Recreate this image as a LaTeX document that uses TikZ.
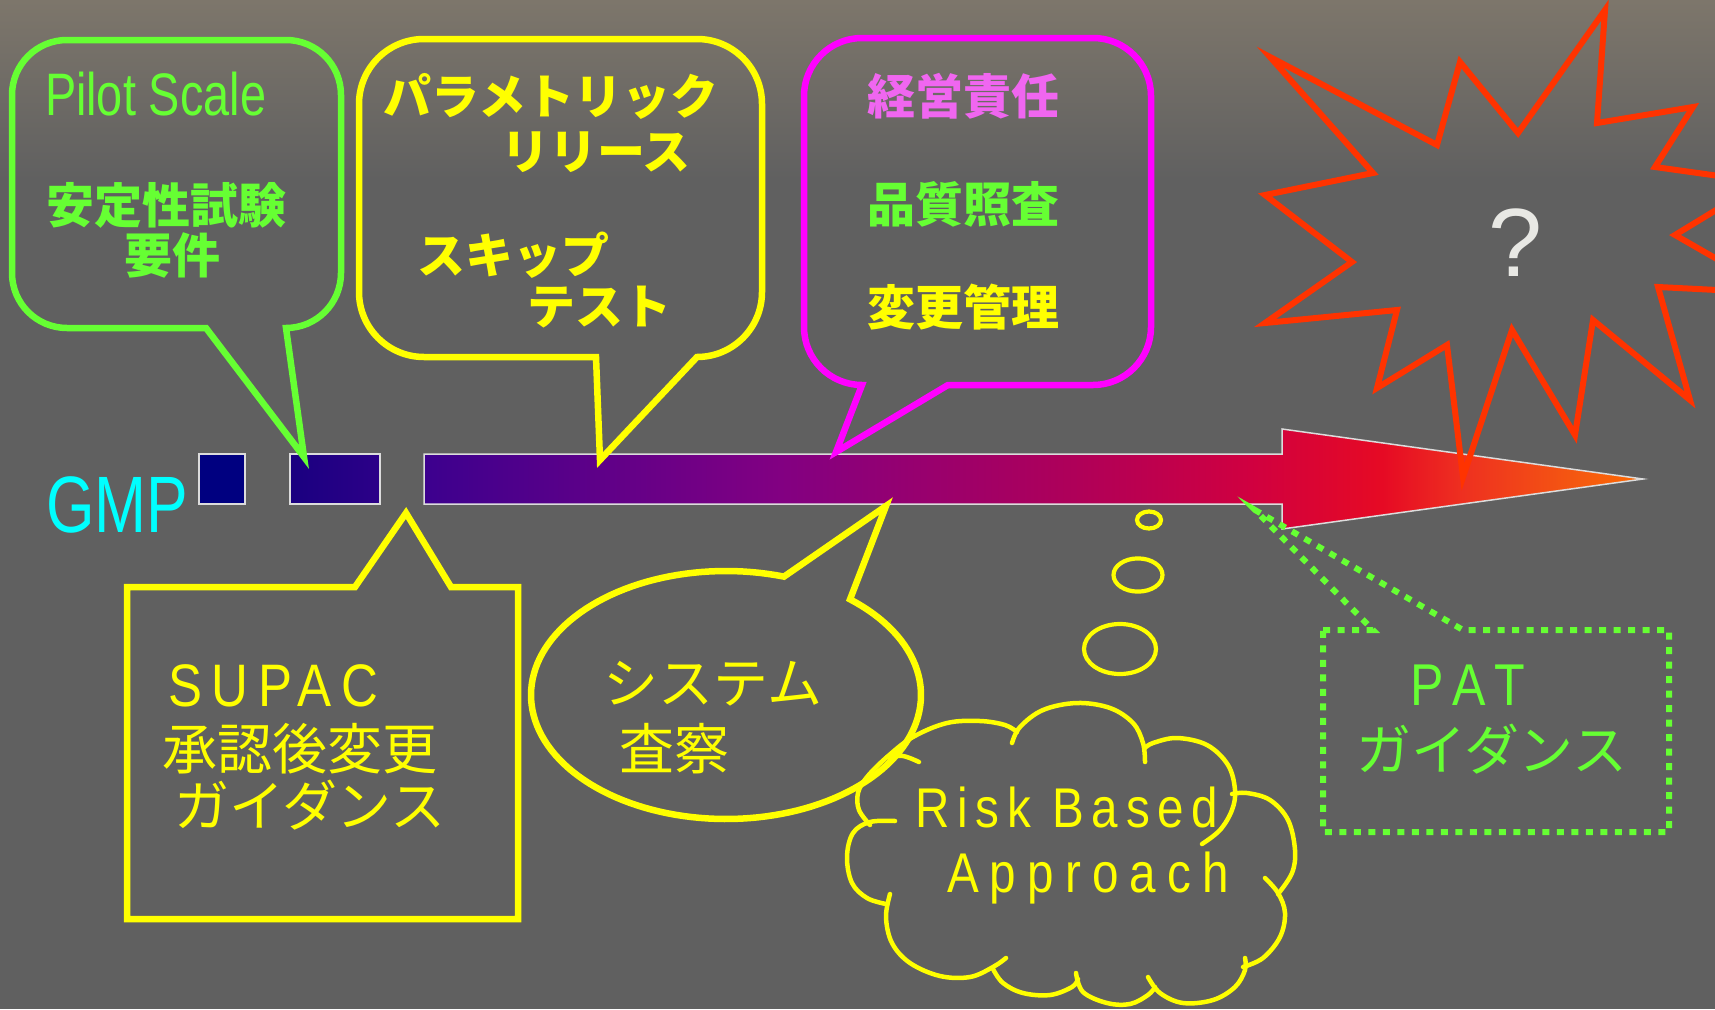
\documentclass[tikz,border=0pt]{standalone}
\usepackage{fontspec}
\setmainfont{Liberation Sans}
\newfontfamily\nsans[FakeStretch=0.78]{Liberation Sans}
\newfontfamily\spsans[FakeStretch=0.85]{Liberation Sans}
\newfontfamily\jp{Noto Sans CJK JP}
\newcommand\myfs[1]{\fontsize{#1}{#1}\selectfont}
\definecolor{cg}{HTML}{66FF33}
\definecolor{cy}{HTML}{FFFF00}
\definecolor{cm}{HTML}{FF00FF}
\definecolor{cpink}{HTML}{F066F0}
\definecolor{cred}{HTML}{FF3300}
\definecolor{ccyan}{HTML}{00FFFF}
\definecolor{bg}{HTML}{606060}
\definecolor{bgtop}{HTML}{7D766B}
\definecolor{edge}{HTML}{DCDCDC}
\definecolor{qm}{HTML}{E8E8E4}
\definecolor{navyc}{HTML}{000080}
\definecolor{s2l}{HTML}{1A0080}
\definecolor{s2r}{HTML}{2C0088}
\definecolor{a0}{HTML}{3C008E}
\definecolor{a1}{HTML}{820082}
\definecolor{a2}{HTML}{B00058}
\definecolor{a3}{HTML}{D00040}
\definecolor{a4}{HTML}{E60A24}
\definecolor{a5}{HTML}{EE3020}
\definecolor{a6}{HTML}{F55A10}
\definecolor{a7}{HTML}{FF6A00}
\pgfdeclarehorizontalshading{arrowsh}{100bp}{color(0bp)=(a0); color(25bp)=(a0); color(39.6bp)=(a1); color(51.9bp)=(a2); color(58.9bp)=(a3); color(64.3bp)=(a4); color(67.6bp)=(a5); color(72.5bp)=(a6); color(75bp)=(a7); color(100bp)=(a7)}
\begin{document}
\begin{tikzpicture}[x=1pt,y=-1pt,
  cl/.style={line width=6.5pt, line join=miter, miter limit=10},
  txt/.style={inner sep=0pt, outer sep=0pt},
  jpbold/.style={txt, font=\jp\bfseries\myfs{48}},
  jpreg/.style={txt, font=\jp\myfs{55}},
  cloudline/.style={draw=cy, line width=4.5pt, line cap=round},
  bubble/.style={draw=cy, line width=4.2pt},
  barline/.style={draw=edge, line width=1.5pt}]
\useasboundingbox (0,0) rectangle (1715,1009);
\clip (0,0) rectangle (1715,1009);
% background
\fill[bg] (0,0) rectangle (1715,1009);
\shade[top color=bgtop, bottom color=bg] (0,0) rectangle (1715,180);

% GMP bar
\draw[barline, fill=navyc] (199,454) rectangle (245,504);
\draw[barline, left color=s2l, right color=s2r] (290,454) rectangle (380,504);
\draw[barline, shading=arrowsh] (424,454) -- (1282,454) -- (1282,429) -- (1643,479) -- (1282,529) -- (1282,504) -- (424,504) -- cycle;
\node[txt, anchor=base west, text=ccyan, font=\nsans\myfs{80}] (gmp) at (46,532) {GMP};

% green callout
\draw[cl, draw=cg] (67,40) -- (286,40) .. controls (316.4,40) and (341,64.6) .. (341,95) -- (341,273) .. controls (341,303.4) and (316.4,328) .. (286,328) -- (304,457) -- (206,328) -- (67,328) .. controls (36.6,328) and (12,303.4) .. (12,273) -- (12,95) .. controls (12,64.6) and (36.6,40) .. (67,40) -- cycle;
\node[txt, anchor=base west, text=cg, font=\nsans\myfs{60}] (pilot) at (45,115) {Pilot Scale};
\node[jpbold, text=cg] (antei) at (166,205) {安定性試験};
\node[jpbold, text=cg] (yoken) at (172,255) {要件};

% yellow rounded callout
\draw[cl, draw=cy] (424,39) -- (697,39) .. controls (732.9,39) and (762,68.1) .. (762,104) -- (762,292) .. controls (762,327.9) and (732.9,357) .. (697,357) -- (600,460) -- (596,357) -- (424,357) .. controls (388.1,357) and (359,327.9) .. (359,292) -- (359,104) .. controls (359,68.1) and (388.1,39) .. (424,39) -- cycle;
\node[jpbold, text=cy] (param) at (551,96) {パラメトリック};
\node[jpbold, text=cy] (release) at (596,152) {リリース};
\node[jpbold, text=cy] (skip) at (513,255) {スキップ};
\node[jpbold, text=cy] (test) at (599,307) {テスト};

% magenta callout
\draw[cl, draw=cm] (862,38) -- (1093,38) .. controls (1125,38) and (1151,64) .. (1151,96) -- (1151,327) .. controls (1151,359) and (1125,385) .. (1093,385) -- (948,385) -- (836,452) -- (862,385) .. controls (830,385) and (804,359) .. (804,327) -- (804,96) .. controls (804,64) and (830,38) .. (862,38) -- cycle;
\node[jpbold, text=cpink] (keiei) at (963,96) {経営責任};
\node[jpbold, text=cg] (hinshitsu) at (963,204) {品質照査};
\node[jpbold, text=cy] (henko) at (963,307) {変更管理};

% SUPAC box
\draw[cl, draw=cy] (127,587) -- (355,587) -- (406,513) -- (451,587) -- (518,587) -- (518,919) -- (127,919) -- cycle;
\node[txt, anchor=base west, text=cy, font=\spsans\myfs{60}\addfontfeatures{LetterSpace=16}] (supac) at (168,706) {SUPAC};
\node[jpreg, text=cy] (shonin) at (300,749) {承認後変更};
\node[jpreg, text=cy] (guid1) at (310,805) {ガイダンス};

% ellipse bubble
\draw[cl, draw=cy] (886,506) -- plot[domain=-50.5:287.3, samples=140] ({726+195*cos(\x)},{695+124*sin(\x)}) -- cycle;
\node[jpreg, text=cy] (system) at (713,684) {システム};
\node[jpreg, text=cy] (sasatsu) at (674,749) {査察};

% thought bubbles
\draw[bubble] (1149,520) ellipse [x radius=12pt, y radius=8.5pt];
\draw[bubble] (1138,575) ellipse [x radius=24.5pt, y radius=16.6pt];
\draw[bubble] (1120,649) ellipse [x radius=36pt, y radius=25pt];

% cloud
\draw[cloudline] plot[smooth, tension=0.6] coordinates {(895,821) (870,822) (853,833) (847,857) (852,883) (867,898) (886,904)};
\draw[cloudline] plot[smooth, tension=0.6] coordinates {(890,894) (886,917) (892,943) (910,963) (940,976) (970,977) (993,967) (1006,958)};
\draw[cloudline] plot[smooth, tension=0.6] coordinates {(993,969) (1003,983) (1023,993) (1050,995) (1072,987) (1078,979)};
\draw[cloudline] plot[smooth, tension=0.6] coordinates {(1076,973) (1083,992) (1107,1003) (1130,1004) (1148,995) (1155,987)};
\draw[cloudline] plot[smooth, tension=0.6] coordinates {(1148,977) (1160,993) (1183,1003) (1213,1000) (1235,987) (1245,970) (1245,958)};
\draw[cloudline] plot[smooth, tension=0.6] coordinates {(1243,967) (1263,958) (1280,937) (1285,913) (1278,893) (1265,878)};
\draw[cloudline] plot[smooth, tension=0.6] coordinates {(1278,894) (1292,873) (1295,850) (1288,820) (1270,800) (1247,793) (1232,794)};
\draw[cloudline] plot[smooth, tension=0.6] coordinates {(1202,844) (1220,830) (1232,810) (1235,790) (1228,765) (1207,745) (1177,738) (1153,743) (1145,748)};
\draw[cloudline] plot[smooth, tension=0.6] coordinates {(1012,743) (1020,727) (1043,710) (1077,703) (1110,708) (1133,723) (1143,743) (1145,762)};
\draw[cloudline] plot[smooth, tension=0.6] coordinates {(870,825) (859,810) (858,793) (867,777) (887,757) (913,737) (947,723) (980,721) (1005,725) (1017,732)};
\draw[cloudline] plot[smooth, tension=0.6] coordinates {(887,757) (903,756) (919,762)};
\node[txt, anchor=base west, text=cy, font=\spsans\myfs{56}\addfontfeatures{LetterSpace=14}] (risk) at (915,827) {Risk Based};
\node[txt, anchor=base west, text=cy, font=\spsans\myfs{56}\addfontfeatures{LetterSpace=20}] (approach) at (947,892) {Approach};

% PAT box
\draw[draw=cg, line width=6pt, dash pattern=on 7pt off 7.5pt, line join=miter] (1323,630) -- (1373,630) -- (1255,510) -- (1463,630) -- (1669,630) -- (1669,832) -- (1323,832) -- cycle;
\node[txt, anchor=base west, text=cg, font=\spsans\myfs{59}\addfontfeatures{LetterSpace=21}] (pat) at (1410,705) {PAT};
\node[jpreg, text=cg] (guid2) at (1492,749) {ガイダンス};

% star
\draw[line width=6pt, line join=miter, miter limit=20, draw=cred] (1270,57) -- (1437,145) -- (1460,62) -- (1518,133) -- (1605,10) -- (1597,123) -- (1693,107) -- (1655,167) -- (1762,182) -- (1675,235) -- (1776,293) -- (1658,287) -- (1690,400) -- (1593,320) -- (1575,435) -- (1512,330) -- (1463,477) -- (1447,345) -- (1377,388) -- (1397,310) -- (1265,323) -- (1352,262) -- (1265,195) -- (1373,173) -- cycle;
\node[txt, text=qm, font=\myfs{97}] (qmark) at (1515,243) {?};
\end{tikzpicture}
\end{document}
